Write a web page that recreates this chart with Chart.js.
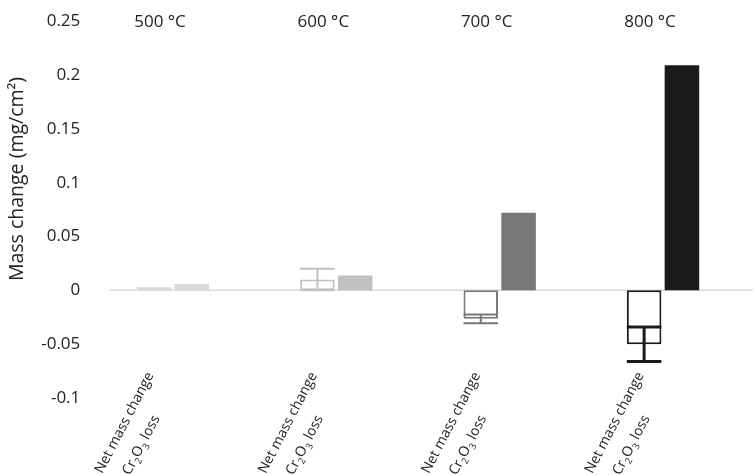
<!DOCTYPE html>
<html>
<head>
<meta charset="utf-8">
<script src="https://cdn.jsdelivr.net/npm/chart.js@4.4.0/dist/chart.umd.min.js"></script>
<style>
  body { margin: 0; background: #fff; }
  canvas { display: block; }
</style>
</head>
<body>
<canvas id="mycanvas" width="754" height="475" style="width:754px;height:475px"></canvas>
<script>
// data
var temps = ["500 °C", "600 °C", "700 °C", "800 °C"];
var seriesNames = ["Net mass change", "Cr2O3 loss"];
var netChange = [0.0015, 0.010, -0.0265, -0.050];
var netError = [0.0005, 0.010, 0.004, 0.016];
var crLoss = [0.006, 0.0137, 0.072, 0.209];
var yTicks = [-0.1, -0.05, 0, 0.05, 0.1, 0.15, 0.2, 0.25];

var shades = ["#d9d9d9", "#c0c0c0", "#787878", "#1b1b1b"];
var textColor = "#222";
var fontName = "'Open Sans', sans-serif";

// error bars + zero line + text labels
var decorations = {
    id: "decorations",
    beforeDatasetsDraw: function (chart) {
        var c = chart.ctx, y = chart.scales.y;
        var y0 = y.getPixelForValue(0);
        c.save();
        c.strokeStyle = "#d9d9d9";
        c.lineWidth = 1.5;
        c.beginPath();
        c.moveTo(110, y0);
        c.lineTo(753, y0);
        c.stroke();
        c.restore();
    },
    afterDatasetsDraw: function (chart) {
        var c = chart.ctx, y = chart.scales.y, x = chart.scales.x;
        var meta = chart.getDatasetMeta(0);
        c.save();
        meta.data.forEach(function (bar, i) {
            var hi = y.getPixelForValue(netChange[i] + netError[i]);
            var lo = y.getPixelForValue(netChange[i] - netError[i]);
            var half = bar.width / 2;
            c.strokeStyle = shades[i];
            c.lineWidth = i == 3 ? 3 : 2;
            c.beginPath();
            c.moveTo(bar.x, hi); c.lineTo(bar.x, lo);
            c.moveTo(bar.x - half, hi); c.lineTo(bar.x + half, hi);
            c.moveTo(bar.x - half, lo); c.lineTo(bar.x + half, lo);
            c.stroke();
        });
        c.restore();

        // temperature titles above each group
        c.save();
        c.fillStyle = textColor;
        c.font = "17px " + fontName;
        c.textAlign = "center";
        c.textBaseline = "middle";
        temps.forEach(function (t, i) {
            c.fillText(t, x.getPixelForValue(i) - 13, 22);
        });
        c.restore();

        // rotated series labels under each group
        temps.forEach(function (t, i) {
            var cx = x.getPixelForValue(i);
            drawRotated(c, seriesNames[0], cx - 19, 375);
            drawRotated(c, seriesNames[1], cx - 13, 418);
        });

        // y axis title
        c.save();
        c.fillStyle = textColor;
        c.font = "19.5px " + fontName;
        c.textAlign = "center";
        c.textBaseline = "middle";
        c.translate(17, 179);
        c.rotate(-Math.PI / 2);
        c.fillText("Mass change (mg/cm²)", 0, 0);
        c.restore();
    }
};

function drawRotated(c, text, ex, ey) {
    // digits after letters become subscripts (Cr2O3)
    var parts = text.split(/(\d)/).filter(function (p) { return p.length; });
    c.save();
    c.fillStyle = textColor;
    c.textBaseline = "alphabetic";
    c.textAlign = "left";
    var widths = parts.map(function (p) {
        c.font = (/\d/.test(p) ? "9.5px " : "14px ") + fontName;
        return c.measureText(p).width;
    });
    var total = widths.reduce(function (a, b) { return a + b; }, 0);
    c.translate(ex, ey);
    c.rotate(-62.5 * Math.PI / 180);
    var px = -total;
    parts.forEach(function (p, k) {
        var sub = /\d/.test(p);
        c.font = (sub ? "9.5px " : "14px ") + fontName;
        c.fillText(p, px, sub ? 4 : 0);
        px += widths[k];
    });
    c.restore();
}

var data = {
    labels: temps,
    datasets: [
        {
            label: seriesNames[0],
            data: netChange,
            backgroundColor: "#fff",
            borderColor: shades,
            borderWidth: 2,
            borderSkipped: false,
            categoryPercentage: 0.463,
            barPercentage: 0.913
        },
        {
            label: seriesNames[1],
            data: crLoss,
            backgroundColor: shades,
            borderColor: shades,
            borderWidth: 0,
            categoryPercentage: 0.463,
            barPercentage: 0.913
        }
    ]
};

var options = {
    responsive: false,
    animation: false,
    devicePixelRatio: 1,
    layout: { padding: { left: 0, right: 9.3, top: 15, bottom: 77 } },
    plugins: {
        legend: { display: false },
        tooltip: { enabled: false }
    },
    scales: {
        x: { display: false },
        y: {
            min: -0.1,
            max: 0.25,
            afterFit: function (s) { s.width = 91.3; },
            afterBuildTicks: function (s) {
                s.ticks = yTicks.map(function (v) { return { value: v }; });
            },
            ticks: {
                padding: 11,
                color: textColor,
                font: { size: 17, family: fontName },
                callback: function (v) { return String(Number(v.toFixed(2))); }
            },
            grid: { display: false, drawTicks: false },
            border: { display: false }
        }
    }
};

var chart = new Chart(document.getElementById("mycanvas"), {
    type: "bar",
    data: data,
    options: options,
    plugins: [decorations]
});
</script>
</body>
</html>
